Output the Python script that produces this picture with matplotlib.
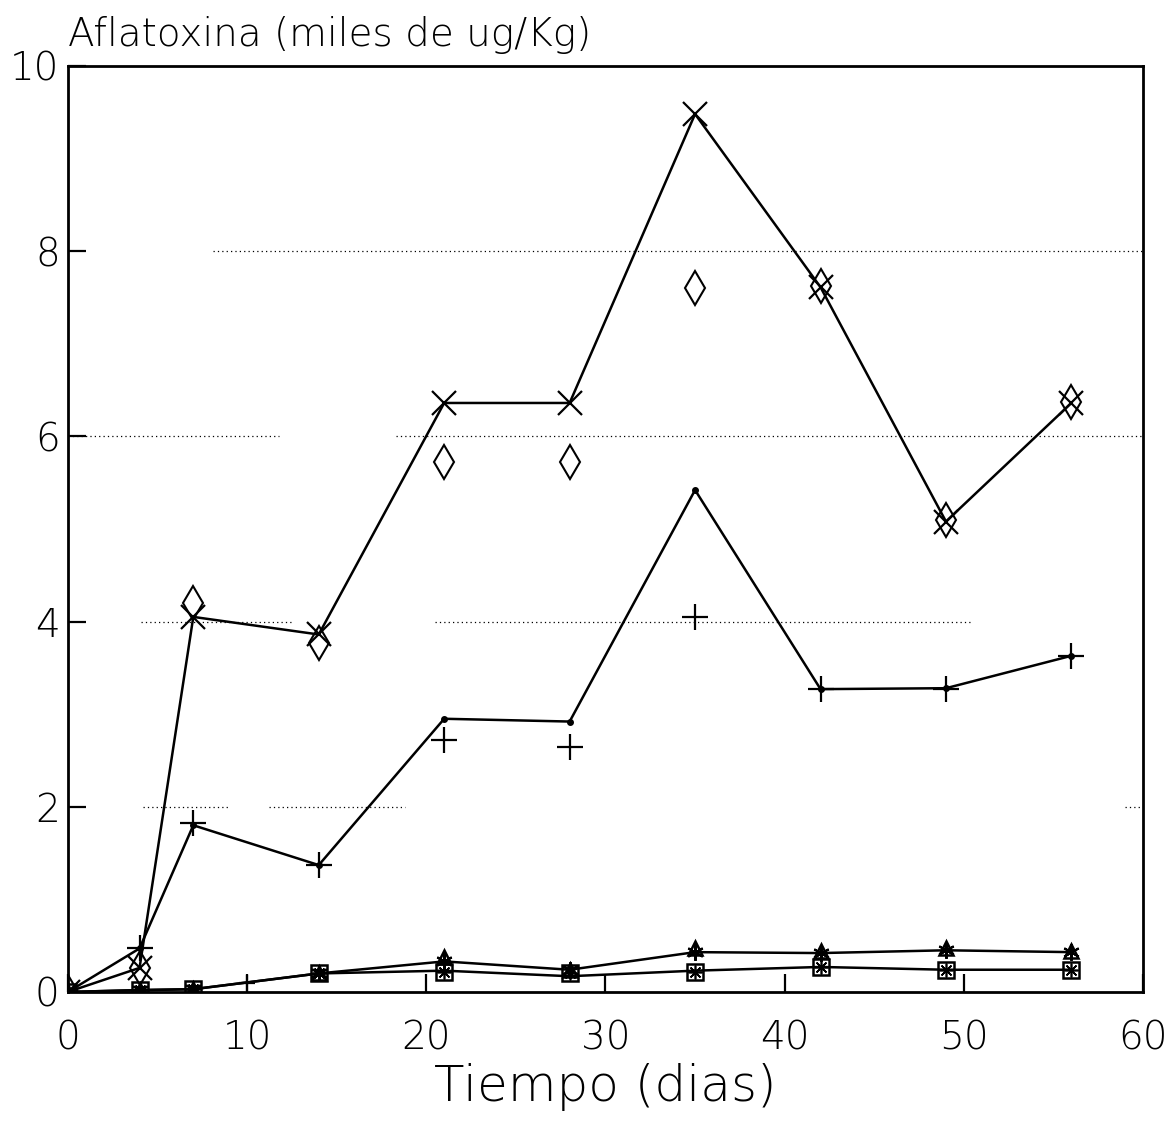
import matplotlib.pyplot as plt
import numpy as np

plt.rcParams['font.family'] = ['DejaVu Sans']
plt.rcParams['font.weight'] = 'light'

# dias de muestreo
dias = [0, 4, 7, 14, 21, 28, 35, 42, 49, 56]

# serie alta (linea con X) y diamantes sueltos
serie_x = [0, 0.26, 4.05, 3.86, 6.36, 6.36, 9.48, 7.61, 5.08, 6.36]
serie_diamante = [0, 0.26, 4.2, 3.77, 5.72, 5.72, 7.6, 7.62, 5.1, 6.37]

# serie media (linea con puntos) y cruces sueltas
serie_punto = [0, 0.47, 1.8, 1.37, 2.95, 2.92, 5.42, 3.27, 3.28, 3.63]
serie_cruz = [0, 0.47, 1.82, 1.37, 2.72, 2.65, 4.05, 3.27, 3.27, 3.63]

# series bajas
serie_baja1 = [0, 0.02, 0.03, 0.2, 0.33, 0.24, 0.43, 0.42, 0.45, 0.43]
serie_triangulo = [0, 0.02, 0.03, 0.2, 0.38, 0.24, 0.48, 0.44, 0.48, 0.44]
serie_baja2 = [0, 0.02, 0.03, 0.2, 0.23, 0.17, 0.23, 0.27, 0.24, 0.24]
serie_cuadro = [0, 0.02, 0.03, 0.2, 0.22, 0.2, 0.22, 0.27, 0.24, 0.24]
dia_extra = [10]
valor_extra = [0.1]

# lineas de rejilla punteadas (tramos visibles en el original)
rejilla = {2: [(4.2, 9.0), (11.2, 18.8), (59.0, 60)],
           4: [(4.1, 12.5), (20.5, 50.5)],
           6: [(0, 11.8), (18.3, 60)],
           8: [(8.1, 60)]}

fig = plt.figure(figsize=(11.7, 11.28), dpi=100)
ax = fig.add_axes([0.058, 0.1206, 0.919, 0.821])

for nivel, tramos in rejilla.items():
    for a, b in tramos:
        ax.plot([a, b], [nivel, nivel], color='black', lw=0.9, ls=(0, (1, 2.5)), zorder=1)

ax.plot(dias, serie_x, color='black', lw=1.8, marker='x', ms=17, mew=1.6, zorder=3)
ax.plot(dias, serie_diamante, ls='none', marker='d', ms=17, mfc='none', mec='black', mew=1.5, zorder=3)

ax.plot(dias, serie_punto, color='black', lw=1.8, marker='o', ms=4, zorder=3)
ax.plot(dias, serie_cruz, ls='none', marker='+', ms=19, mew=1.6, color='black', zorder=3)

ax.plot(dias, serie_baja1, color='black', lw=1.8, zorder=3)
ax.plot(dias, serie_triangulo, ls='none', marker='^', ms=10, mfc='none', mec='black', mew=1.8, zorder=3)
ax.plot(dias, serie_baja1, ls='none', marker=(6, 2, 0), ms=12, color='black', mew=1.5, zorder=3)
ax.plot(dias, serie_baja2, color='black', lw=1.8, zorder=3)
ax.plot(dias, serie_cuadro, ls='none', marker='s', ms=11, mfc='none', mec='black', mew=1.8, zorder=3)
ax.plot(dias, serie_cuadro, ls='none', marker=(8, 2, 0), ms=10, color='black', mew=1.2, zorder=3)
ax.plot(dia_extra, valor_extra, ls='none', marker='+', ms=12, mew=1.6, color='black', zorder=3)

ax.set_xlim(0, 60)
ax.set_ylim(0, 10)
ax.set_xticks([0, 10, 20, 30, 40, 50, 60])
ax.set_yticks([0, 2, 4, 6, 8, 10])
ax.tick_params(axis='both', direction='in', length=13, width=1.6, labelsize=28,
               top=False, right=False)
ax.tick_params(axis='x', pad=20)
ax.tick_params(axis='y', pad=6)
for s in ax.spines.values():
    s.set_linewidth(2)

ax.set_xlabel('Tiempo (dias)', fontsize=36, fontweight='light', labelpad=4)
ax.text(0, 10.13, 'Aflatoxina (miles de ug/Kg)', fontsize=28, ha='left', va='bottom')

plt.savefig('out.png', dpi=100)
